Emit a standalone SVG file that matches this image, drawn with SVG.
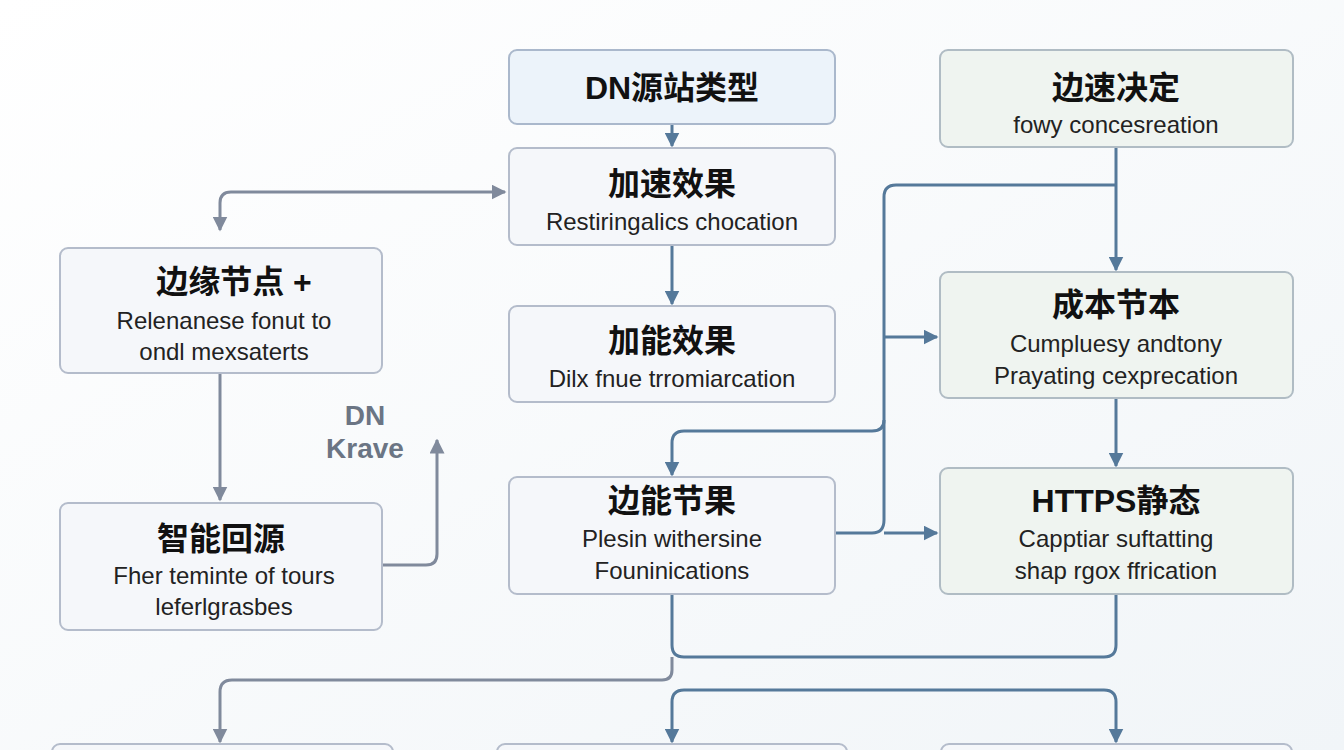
<svg xmlns="http://www.w3.org/2000/svg" width="1344" height="750" viewBox="0 0 1344 750">
<defs>
<marker id="ab" viewBox="0 0 10 10" refX="9" refY="5" markerWidth="5" markerHeight="5" orient="auto-start-reverse"><path d="M0,0 L10,5 L0,10 z" fill="#55799a"/></marker>
<marker id="ag" viewBox="0 0 10 10" refX="9" refY="5" markerWidth="5" markerHeight="5" orient="auto-start-reverse"><path d="M0,0 L10,5 L0,10 z" fill="#808a9c"/></marker>
<linearGradient id="bg" x1="0" y1="0" x2="1" y2="1"><stop offset="0" stop-color="#ffffff"/><stop offset="1" stop-color="#f1f5f8"/></linearGradient>
</defs>
<style>
.n{fill:#f5f7fa;stroke:#b4bccb;stroke-width:2}
.nb{fill:#ecf3fa;stroke:#aab8cc;stroke-width:2}
.ng{fill:#eff4f0;stroke:#b0bcc4;stroke-width:2}
.t{font-family:"Liberation Sans","Noto Sans CJK SC",sans-serif;font-weight:bold;font-size:32px;fill:#111;text-anchor:middle}
.s{font-family:"Liberation Sans","Noto Sans CJK SC",sans-serif;font-size:24px;fill:#222;text-anchor:middle}
.c{fill:none;stroke:#55799a;stroke-width:3}
.cg{fill:none;stroke:#808a9c;stroke-width:3}
.lab{font-family:"Liberation Sans",sans-serif;font-weight:bold;font-size:28px;fill:#6b7584;text-anchor:middle}
</style>
<rect width="1344" height="750" fill="url(#bg)"/>
<g id="connectors">
<path class="c" d="M672,124 V146" marker-end="url(#ab)"/>
<path class="c" d="M672,245 V304" marker-end="url(#ab)"/>
<path class="cg" d="M220,230 V203 Q220,192 231,192 H505" marker-start="url(#ag)" marker-end="url(#ag)"/>
<path class="cg" d="M220,373 V500" marker-end="url(#ag)"/>
<path class="cg" d="M382,565 H426 Q437,565 437,554 V440" marker-end="url(#ag)"/>
<path class="c" d="M1116,147 V270" marker-end="url(#ab)"/>
<path class="c" d="M1116,185 H896 Q884,185 884,197 V520 Q884,533 872,533 H835"/>
<path class="c" d="M884,337 H937" marker-end="url(#ab)"/>
<path class="c" d="M884,533 H937" marker-end="url(#ab)"/>
<path class="c" d="M884,420 Q884,431 872,431 H684 Q672,431 672,443 V475" marker-end="url(#ab)"/>
<path class="c" d="M1116,398 V466" marker-end="url(#ab)"/>
<path class="c" d="M672,594 V645 Q672,657 684,657 H1104 Q1116,657 1116,645 V594"/>
<path class="cg" d="M672,657 V670 Q672,680 662,680 H232 Q220,680 220,692 V742" marker-end="url(#ag)"/>
<path class="c" d="M672,742 V702 Q672,690 684,690 H1104 Q1116,690 1116,702 V742" marker-start="url(#ab)" marker-end="url(#ab)"/>
</g>
<g id="nA"><rect class="nb" x="509" y="50" width="326" height="74" rx="8"/><text class="t" x="672" y="99">DN源站类型</text></g>
<g id="nB"><rect class="n" x="509" y="148" width="326" height="97" rx="8"/><text class="t" x="672" y="195">加速效果</text><text class="s" x="672" y="230">Restiringalics chocation</text></g>
<g id="nC"><rect class="n" x="509" y="306" width="326" height="96" rx="8"/><text class="t" x="672" y="352">加能效果</text><text class="s" x="672" y="387">Dilx fnue trromiarcation</text></g>
<g id="nD"><rect class="n" x="509" y="477" width="326" height="117" rx="8"/><text class="t" x="672" y="512">边能节果</text><text class="s" x="672" y="547">Plesin withersine</text><text class="s" x="672" y="579">Founinications</text></g>
<g id="nE"><rect class="n" x="60" y="248" width="322" height="125" rx="8"/><text class="t" x="234" y="293">边缘节点 +</text><text class="s" x="224" y="329">Relenanese fonut to</text><text class="s" x="224" y="360">ondl mexsaterts</text></g>
<g id="nF"><rect class="n" x="60" y="503" width="322" height="127" rx="8"/><text class="t" x="221" y="550">智能回源</text><text class="s" x="224" y="584">Fher teminte of tours</text><text class="s" x="224" y="615">leferlgrasbes</text></g>
<g id="nG"><rect class="ng" x="940" y="50" width="353" height="97" rx="8"/><text class="t" x="1116" y="99">边速决定</text><text class="s" x="1116" y="133">fowy concesreation</text></g>
<g id="nH"><rect class="ng" x="940" y="272" width="353" height="126" rx="8"/><text class="t" x="1116" y="316">成本节本</text><text class="s" x="1116" y="352">Cumpluesy andtony</text><text class="s" x="1116" y="384">Prayating cexprecation</text></g>
<g id="nI"><rect class="ng" x="940" y="468" width="353" height="126" rx="8"/><text class="t" x="1116" y="512">HTTPS静态</text><text class="s" x="1116" y="547">Capptiar suftatting</text><text class="s" x="1116" y="579">shap rgox ffrication</text></g>
<g id="label"><text class="lab" x="365" y="425">DN</text><text class="lab" x="365" y="458">Krave</text></g>
<g id="nJ"><rect class="n" x="52" y="744" width="341" height="40" rx="8"/></g>
<g id="nK"><rect class="n" x="497" y="744" width="350" height="40" rx="8"/></g>
<g id="nL"><rect class="n" x="941" y="744" width="351" height="40" rx="8"/></g>
</svg>
